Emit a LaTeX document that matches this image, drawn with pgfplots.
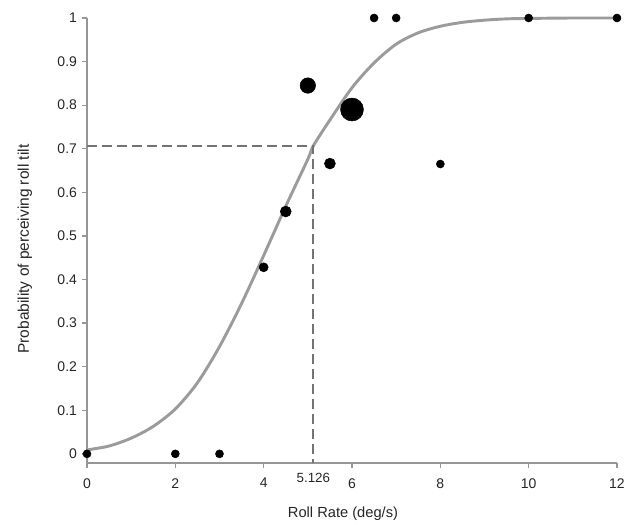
\documentclass[border=0pt]{standalone}
\usepackage{fontspec}
\setmainfont{Liberation Sans}
\usepackage{pgfplots}
\pgfplotsset{compat=1.18}
\definecolor{curvegray}{RGB}{155,155,155}
\definecolor{dashgray}{RGB}{115,115,115}
\definecolor{axisgray}{RGB}{150,150,150}

% observed proportions, r = dot radius in pt
\pgfplotstableread{
x    y      r
0    0      3.0
2    0      3.0
3    0      3.0
4    0.428  3.4
4.5  0.556  4.1
5    0.845  5.8
5.5  0.666  4.1
6    0.790  8.6
6.5  1      3.0
7    1      3.0
8    0.665  3.0
10   1      3.0
12   1      3.0
}\obsdata

% fitted psychometric curve
\pgfplotstableread{
x      y
0      0.009
0.5    0.018
1      0.036
1.5    0.063
2      0.103
2.5    0.163
3      0.246
3.5    0.345
4      0.455
4.5    0.568
5      0.676
5.126  0.707
5.5    0.766
6      0.840
6.5    0.897
7      0.940
7.5    0.966
8      0.981
8.5    0.990
9      0.995
9.5    0.998
10     0.999
11     1.000
12     1.000
}\fitdata

\begin{document}
\begin{tikzpicture}
\begin{axis}[
  scale only axis,
  width=397.5pt, height=333.75pt,
  xmin=0, xmax=12, ymin=-0.021, ymax=1,
  axis lines=left,
  axis line style={-, draw=axisgray, line width=1pt},
  xtick={0,2,4,6,8,10,12},
  ytick={0,0.1,0.2,0.3,0.4,0.5,0.6,0.7,0.8,0.9,1},
  tick align=outside,
  major tick length=4pt,
  tick style={draw=axisgray, line width=1pt},
  clip=false,
  /pgf/number format/assume math mode=true,
  ticklabel style={font=\fontsize{10.5}{12}\selectfont, text=black!85},
  xticklabel style={inner sep=0pt, yshift=-7.25pt},
  yticklabel style={/pgf/number format/fixed, /pgf/number format/precision=1},
  xlabel={Roll Rate (deg/s)},
  ylabel={Probability of perceiving roll tilt},
  xlabel style={font=\fontsize{11}{13}\selectfont, text=black!85,
    at={(axis description cs:0.5,0)}, anchor=north, inner sep=0pt,
    yshift=-32.5pt, xshift=-6.75pt},
  ylabel style={font=\fontsize{11.6}{13}\selectfont, text=black!85,
    at={(axis description cs:0,0.5)}, anchor=south, inner sep=0pt,
    yshift=41pt, xshift=-6.4pt},
]
\addplot[curvegray, line width=2.2pt, smooth] table[x=x, y=y] {\fitdata};

\addplot[dashgray, line width=1.5pt, dash pattern=on 7.5pt off 3.75pt]
  coordinates {(0,0.707) (5.126,0.707) (5.126,-0.021)};

\addplot[
  scatter, only marks, mark=*,
  scatter/use mapped color={draw=black, fill=black},
  visualization depends on={\thisrow{r} \as \dotrad},
  scatter/@pre marker code/.append style={/tikz/mark size=\dotrad pt},
] table[x=x, y=y] {\obsdata};

\node[anchor=north, inner sep=0pt, font=\fontsize{10}{12}\selectfont, text=black!85]
  at (axis cs:5.126,-0.021) [yshift=-7.8pt] {5.126};
\end{axis}
\path ([shift={(-65.25pt,-46.5pt)}]current axis.south west)
  rectangle ([shift={(12pt,13.5pt)}]current axis.north east);
\end{tikzpicture}
\end{document}
